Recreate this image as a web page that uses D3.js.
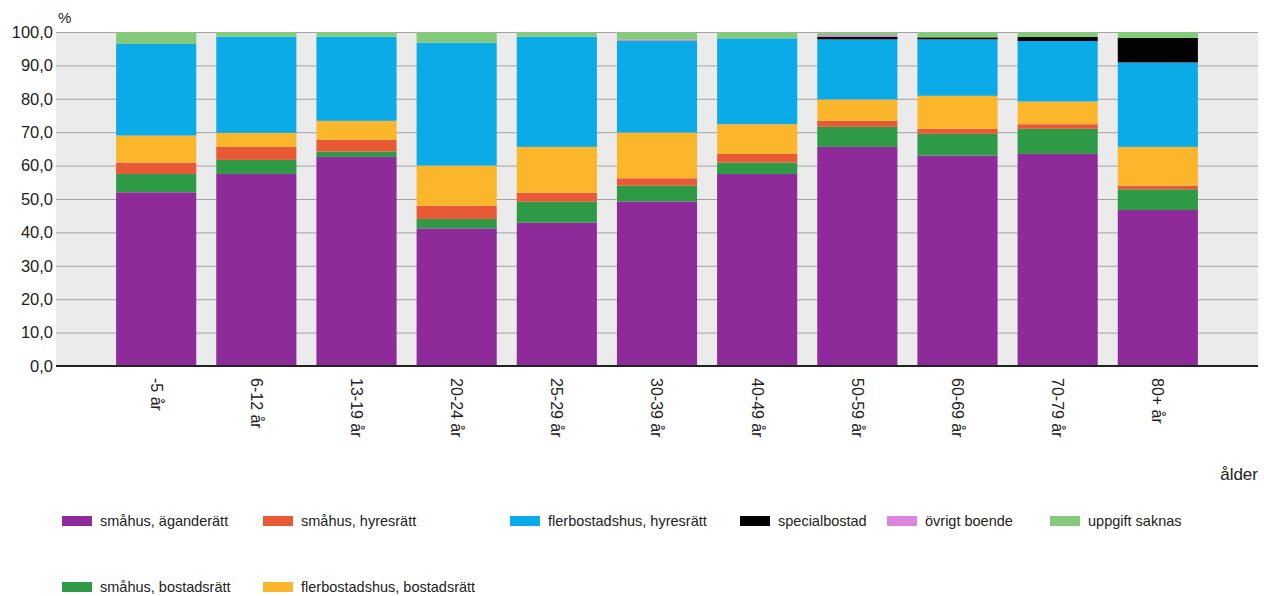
<!DOCTYPE html>
<html><head><meta charset="utf-8">
<script src="https://cdn.jsdelivr.net/npm/d3@7"></script>
<style>body{margin:0;background:#fff;}svg{display:block;font-family:"Liberation Sans",Arial,sans-serif;}</style>
</head><body><svg id="c" width="1264" height="596"></svg>
<script>
const categories = ["-5 år","6-12 år","13-19 år","20-24 år","25-29 år","30-39 år","40-49 år","50-59 år","60-69 år","70-79 år","80+ år"];
const seriesNames = ["småhus, äganderätt","småhus, bostadsrätt","småhus, hyresrätt","flerbostadshus, bostadsrätt","flerbostadshus, hyresrätt","specialbostad","övrigt boende","uppgift saknas"];
const smahusAgande   = [52.0, 57.5, 62.6, 41.2, 42.9, 49.2, 57.5, 65.6, 63.0, 63.5, 46.7];
const smahusBostad   = [5.5, 4.2, 1.6, 2.8, 6.3, 4.8, 3.4, 6.0, 6.5, 7.5, 6.2];
const smahusHyres    = [3.4, 3.9, 3.5, 4.0, 2.7, 2.2, 2.6, 1.8, 1.5, 1.4, 1.1];
const flerBostad     = [8.1, 4.2, 5.7, 12.0, 13.7, 13.7, 8.9, 6.4, 9.9, 6.8, 11.6];
const flerHyres      = [27.4, 28.8, 25.2, 36.8, 33.0, 27.4, 25.7, 18.0, 16.9, 18.1, 25.3];
const specialbostad  = [0, 0, 0, 0, 0, 0, 0, 0.8, 0.6, 1.2, 7.3];
const ovrigtBoende   = [0, 0, 0, 0, 0, 0.4, 0, 0.5, 0, 0, 0];
const uppgiftSaknas  = [3.6, 1.4, 1.4, 3.2, 1.4, 2.3, 1.9, 0.9, 1.6, 1.5, 1.8];
const yTicks = [0,10,20,30,40,50,60,70,80,90,100];
const colors = ["#8E2A9A","#2F9A45","#E85A35","#FBB62B","#0BABE8","#000000","#DD85DD","#85C97A"];

const seriesValues = [smahusAgande, smahusBostad, smahusHyres, flerBostad, flerHyres, specialbostad, ovrigtBoende, uppgiftSaknas];
const table = categories.map((c,i)=>{const o={cat:c}; seriesNames.forEach((s,j)=>o[s]=seriesValues[j][i]); return o;});

const svg = d3.select("#c");
const L=56, R=1258, T=32, B=366;
const x = d3.scaleBand().domain(categories).range([L,R]).paddingInner(0.2).paddingOuter(0.6);
const y = d3.scaleLinear().domain([0,100]).range([B,T]);

svg.append("rect").attr("x",L).attr("y",T).attr("width",R-L).attr("height",B-T).attr("fill","#EBEBEB");
svg.append("g").selectAll("line").data(yTicks.filter(d=>d>0)).join("line")
  .attr("x1",L).attr("x2",R).attr("y1",d=>y(d)+0.5).attr("y2",d=>y(d)+0.5)
  .attr("stroke","#A3A3A3").attr("stroke-width",1);

const stack = d3.stack().keys(seriesNames)(table);
svg.append("g").selectAll("g").data(stack).join("g").attr("fill",(d,i)=>colors[i])
  .selectAll("rect").data(d=>d).join("rect")
  .attr("x",d=>x(d.data.cat)).attr("width",x.bandwidth())
  .attr("y",d=>y(d[1])).attr("height",d=>Math.max(0,y(d[0])-y(d[1])));

svg.append("line").attr("x1",L).attr("x2",R).attr("y1",B).attr("y2",B).attr("stroke","#222").attr("stroke-width",2);

const fmt = d=>d3.format(".1f")(d).replace(".",",");
svg.append("g").selectAll("text").data(yTicks).join("text")
  .attr("x",53).attr("y",d=>y(d)).attr("dy","0.35em").attr("text-anchor","end")
  .attr("font-size",16.5).attr("fill","#222").text(fmt);
svg.append("text").attr("x",58).attr("y",23).attr("font-size",15).attr("fill","#222").text("%");

svg.append("g").selectAll("text").data(categories).join("text")
  .attr("transform",d=>`translate(${x(d)+x.bandwidth()/2},378) rotate(90)`)
  .attr("dy","0.35em").attr("font-size",16).attr("fill","#222").text(d=>d);
svg.append("text").attr("x",1258).attr("y",480).attr("text-anchor","end").attr("font-size",17).attr("fill","#222").text("ålder");

const legendPos = [[62,521],[62,587],[263,521],[263,587],[510,521],[740,521],[887,521],[1050,521]];
const lg = svg.append("g").selectAll("g").data(seriesNames).join("g")
  .attr("transform",(d,i)=>`translate(${legendPos[i][0]},${legendPos[i][1]})`);
lg.append("rect").attr("x",0).attr("y",-5).attr("width",30).attr("height",10).attr("fill",(d,i)=>colors[i]);
lg.append("text").attr("x",38).attr("dy","0.35em").attr("font-size",14.5).attr("fill","#222").text(d=>d);
</script></body></html>
